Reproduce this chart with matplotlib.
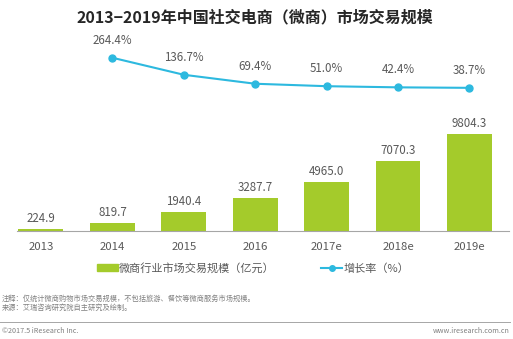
import matplotlib.pyplot as plt
from matplotlib.lines import Line2D
from matplotlib.patches import Patch

plt.rcParams['font.family'] = ['Noto Sans CJK SC', 'DejaVu Sans']

# 交易规模（亿元）与增长率（%）
years = ['2013', '2014', '2015', '2016', '2017e', '2018e', '2019e']
scale = [224.9, 819.7, 1940.4, 3287.7, 4965.0, 7070.3, 9804.3]
growth_years = ['2014', '2015', '2016', '2017e', '2018e', '2019e']
growth = [264.4, 136.7, 69.4, 51.0, 42.4, 38.7]

green = '#a4cb2b'
cyan = '#2db9df'
grey = '#595959'

W, H = 513, 339
fig = plt.figure(figsize=(W / 100, H / 100), dpi=100)

# 柱状图区域
ax = fig.add_axes([16.7 / W, (H - 231) / H, 492.7 / W, 104 / H])
x = range(len(years))
bars = ax.bar(x, scale, width=0.63, color=green)
for b, v in zip(bars, scale):
    ax.annotate(f'{v:.1f}', (b.get_x() + b.get_width() / 2, v),
                xytext=(0, 3), textcoords='offset points',
                ha='center', va='bottom', fontsize=8.3, color=grey)
ax.set_xlim(-0.34, 6.56)
ax.set_ylim(0, 10500)
ax.set_xticks(list(x))
ax.set_xticklabels(years, fontsize=8.2, color=grey)
ax.tick_params(axis='x', length=0, pad=8)
ax.set_yticks([])
for s in ['top', 'right', 'left']:
    ax.spines[s].set_visible(False)
ax.spines['bottom'].set_color('#a6a6a6')
ax.spines['bottom'].set_linewidth(0.8)

# 增长率折线
ax2 = fig.add_axes([16.7 / W, (H - 93) / H, 492.7 / W, 40 / H])
gx = [years.index(y) for y in growth_years]
ax2.plot(gx, growth, color=cyan, lw=1.5, marker='o', ms=5)
for xi, g in zip(gx, growth):
    ax2.annotate(f'{g:.1f}%', (xi, g), xytext=(0, 8), textcoords='offset points',
                 ha='center', va='bottom', fontsize=8.3, color=grey)
ax2.set_xlim(-0.34, 6.56)
ax2.set_ylim(0, 300)
ax2.axis('off')

fig.text(0.496, 1 - 17 / H, '2013−2019年中国社交电商（微商）市场交易规模',
         ha='center', va='center', fontsize=11.5, fontweight='bold', color='#262626')

handles = [Patch(color=green),
           Line2D([], [], color=cyan, lw=1.5, marker='o', ms=4)]
fig.legend(handles, ['微商行业市场交易规模（亿元）', '增长率（%）'],
           loc='center', bbox_to_anchor=(253 / W, 1 - 268 / H), ncol=2,
           frameon=False, fontsize=8, labelcolor=grey,
           handlelength=1.9, handleheight=0.5, handletextpad=0.1,
           columnspacing=4.2)

fig.text(2 / W, 1 - 299 / H, '注释：仅统计微商购物市场交易规模，不包括旅游、餐饮等微商服务市场规模。',
         fontsize=5.2, color='#808080', va='center')
fig.text(2 / W, 1 - 308 / H, '来源：艾瑞咨询研究院自主研究及绘制。',
         fontsize=5.2, color='#808080', va='center')
fig.add_artist(Line2D([0, 510 / W], [1 - 322 / H] * 2, color='#a6a6a6', lw=0.7))
fig.text(2 / W, 1 - 331 / H, '©2017.5 iResearch Inc.', fontsize=5.2, color='#808080', va='center')
fig.text(510 / W, 1 - 331 / H, 'www.iresearch.com.cn', fontsize=5.2, color='#808080',
         va='center', ha='right')

fig.savefig('out.png', dpi=100)
